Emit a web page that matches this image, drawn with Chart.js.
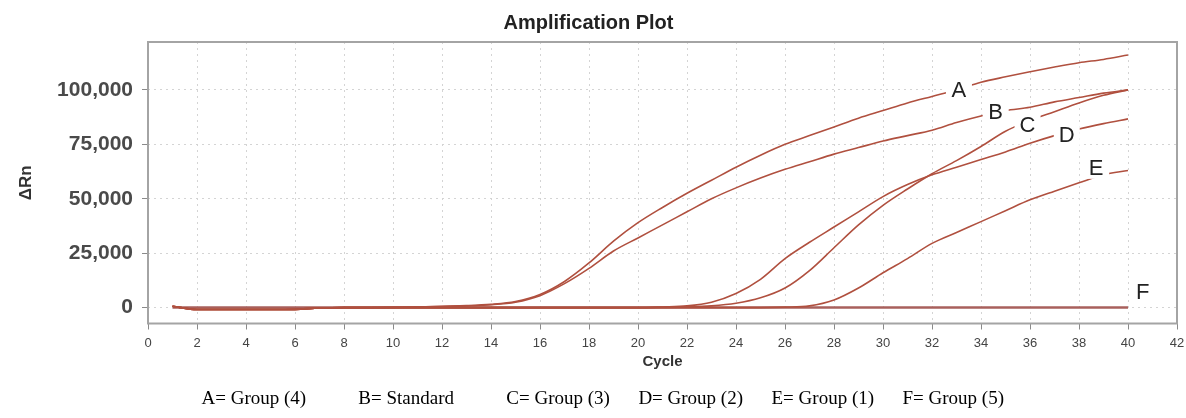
<!DOCTYPE html>
<html>
<head>
<meta charset="utf-8">
<script src="https://cdn.jsdelivr.net/npm/chart.js@4.4.1/dist/chart.umd.min.js"></script>
<style>
  html, body { margin: 0; padding: 0; background: #fff; }
</style>
</head>
<body>
<canvas id="amp-plot" width="1186" height="418"></canvas>
<script>
const cycles = [];
for (let c = 1; c <= 40; c++) cycles.push(c);

// delta Rn per cycle
const groupA = [600, -900, -900, -900, -900, -800, -200, 0, 0, 100,
                300, 600, 900, 1500, 2800, 6000, 12000, 20500, 30500, 39000,
                46000, 52500, 58500, 64500, 70000, 75000, 79000, 83000, 87000, 90500,
                94000, 97000, 100000, 103500, 106000, 108300, 110500, 112500, 114000, 116000];
const standard = [600, -900, -900, -900, -900, -800, -200, 0, 0, 100,
                  300, 500, 800, 1300, 2500, 5500, 11000, 18000, 26000, 32000,
                  38000, 44000, 50000, 55000, 59500, 63500, 67000, 70500, 73500, 76500,
                  79000, 81500, 85000, 88000, 90500, 92000, 94500, 96500, 98500, 100000];
const groupC = [600, -900, -900, -900, -900, -800, -200, 0, 0, 0,
                0, 0, 0, 0, 0, 0, 0, 0, 0, 0,
                100, 300, 800, 2000, 4500, 9000, 17000, 27500, 38000, 47000,
                54500, 61500, 67500, 74000, 81000, 86000, 90000, 94000, 97500, 100000];
const groupD = [600, -900, -900, -900, -900, -800, -200, 0, 0, 0,
                0, 0, 0, 0, 0, 0, 0, 0, 0, 0,
                300, 800, 2500, 6500, 13000, 22500, 30000, 37000, 44000, 51000,
                56500, 61000, 64500, 68000, 71500, 75500, 79000, 82000, 84500, 86700];
const groupE = [600, -900, -900, -900, -900, -800, -200, 0, 0, 0,
                0, 0, 0, 0, 0, 0, 0, 0, 0, 0,
                0, 0, 0, 0, 0, 200, 800, 3500, 9000, 16000,
                22500, 29500, 34500, 39500, 44500, 49500, 53500, 57300, 61000, 63000];
const groupF = [0, 0, 0, 0, 0, 0, 0, 0, 0, 0,
                0, 0, 0, 0, 0, 0, 0, 0, 0, 0,
                0, 0, 0, 0, 0, 0, 0, 0, 0, 0,
                0, 0, 0, 0, 0, 0, 0, 0, 0, 0];

const yTicks = [0, 25000, 50000, 75000, 100000];

// letters written on the curves
const curveLabels = ['A', 'B', 'C', 'D', 'E', 'F'];
const labelCycles = [33.1, 34.6, 35.9, 37.5, 38.7, 40.6];
const labelValues = [100000, 89800, 84000, 79400, 64200, 7300];

const caption = '      A= Group (4)           B= Standard           C= Group (3)      D= Group (2)      E= Group (1)      F= Group (5)';

const lineColor = '#b0503f';

function series(values, color, width) {
    return {
        data: values.map((v, i) => ({x: cycles[i], y: v})),
        borderColor: color,
        borderWidth: width,
        pointRadius: 0,
        cubicInterpolationMode: 'monotone',
        fill: false
    };
}

const curveLetters = {
    id: 'curveLetters',
    afterDatasetsDraw(chart) {
        const ctx = chart.ctx;
        const xs = chart.scales.x, ys = chart.scales.y;
        ctx.save();
        ctx.font = '22px "Liberation Sans", Arial, sans-serif';
        ctx.textAlign = 'center';
        ctx.textBaseline = 'middle';
        for (let i = 0; i < curveLabels.length; i++) {
            const px = xs.getPixelForValue(labelCycles[i]);
            const py = ys.getPixelForValue(labelValues[i]);
            ctx.fillStyle = '#fff';
            ctx.fillRect(px - 13, py - 11, 26, 22);
            ctx.fillStyle = '#222';
            ctx.fillText(curveLabels[i], px, py + 1);
        }
        ctx.restore();
    }
};

const plotFrame = {
    id: 'plotFrame',
    afterDraw(chart) {
        const a = chart.chartArea;
        const ctx = chart.ctx;
        ctx.save();
        ctx.strokeStyle = '#a4a4a4';
        ctx.lineWidth = 2;
        ctx.strokeRect(a.left, a.top, a.right - a.left, a.bottom - a.top);
        ctx.restore();
    }
};

var ctx = document.getElementById('amp-plot').getContext('2d');
var ampChart = new Chart(ctx, {
    type: 'line',
    data: {
        datasets: [
            series(groupA, lineColor, 1.6),
            series(standard, lineColor, 1.6),
            series(groupC, lineColor, 1.6),
            series(groupD, lineColor, 1.6),
            series(groupE, lineColor, 1.6),
            series(groupF, '#a8605c', 2.5)
        ]
    },
    options: {
        responsive: false,
        animation: false,
        devicePixelRatio: 1,
        layout: { padding: { left: 0, right: 9, top: 0, bottom: 0 } },
        plugins: {
            legend: { display: false },
            tooltip: { enabled: false },
            title: {
                display: true,
                text: 'Amplification Plot',
                color: '#222',
                font: { family: '"Liberation Sans", Arial, sans-serif', size: 20, weight: 'bold', lineHeight: 1.2 },
                padding: { top: 11, bottom: 7 }
            },
            subtitle: {
                display: true,
                position: 'bottom',
                text: caption,
                color: '#000',
                font: { family: '"Liberation Serif", "Times New Roman", serif', size: 19, lineHeight: 1.1 },
                padding: { top: 0, bottom: 9 }
            }
        },
        scales: {
            x: {
                type: 'linear',
                min: 0,
                max: 42,
                ticks: {
                    stepSize: 2,
                    color: '#444',
                    padding: 6,
                    font: { family: '"Liberation Sans", Arial, sans-serif', size: 13 }
                },
                grid: { color: '#d4d4d4', borderDash: [2, 4], tickColor: '#8a8a8a', tickLength: 6, tickBorderDash: [] },
                border: { display: false, dash: [2, 4] },
                title: {
                    display: true,
                    text: 'Cycle',
                    color: '#333',
                    font: { family: '"Liberation Sans", Arial, sans-serif', size: 15, weight: 'bold', lineHeight: 1.2 },
                    padding: { top: 0, bottom: 17 }
                },
                afterFit(scale) {
                    scale.height = 64.6;
                    scale.paddingLeft = 0;
                    scale.paddingRight = 0;
                }
            },
            y: {
                min: -7300,
                max: 122000,
                ticks: {
                    color: '#4a4a4a',
                    padding: 9,
                    font: { family: '"Liberation Sans", Arial, sans-serif', size: 21, weight: 'bold' },
                    callback: (v) => v.toLocaleString('en-US')
                },
                afterBuildTicks(scale) { scale.ticks = yTicks.map(v => ({value: v})); },
                grid: { color: '#d4d4d4', borderDash: [2, 4], tickColor: '#8a8a8a', tickLength: 6, tickBorderDash: [] },
                border: { display: false, dash: [2, 4] },
                title: {
                    display: true,
                    text: 'ΔRn',
                    color: '#333',
                    font: { family: '"Liberation Sans", Arial, sans-serif', size: 17, weight: 'bold', lineHeight: 1.2 },
                    padding: { top: 16, bottom: 0 }
                },
                afterFit(scale) { scale.width = 148; }
            }
        }
    },
    plugins: [curveLetters, plotFrame]
});
</script>
</body>
</html>
